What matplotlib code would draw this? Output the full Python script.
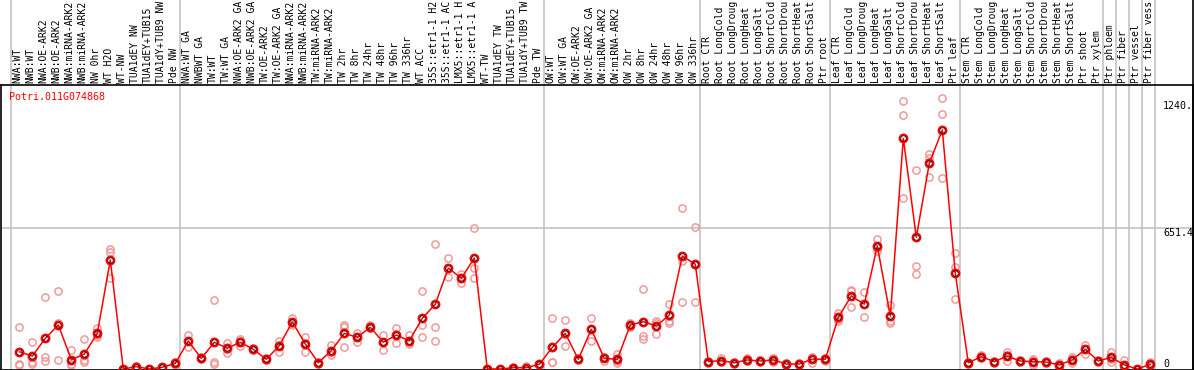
import numpy as np
import matplotlib.pyplot as plt
from matplotlib.lines import Line2D
from matplotlib.transforms import blended_transform_factory

gene = 'Potri.011G074868'

# names as shown in the strip (the source cuts them at 14 characters)
labels = [
    'NWA:WT', 'NWB:WT', 'NWA:OE-ARK2', 'NWB:OE-ARK2', 'NWA:miRNA-ARK2', 'NWB:miRNA-ARK2',
    'NW 0hr', 'WT H2O', 'WT-NW', 'TUA1dEY NW', 'TUA1dEY+TUB15', 'TUA1dY+TUB9 NW', 'Pde NW',
    'NWA:WT GA', 'NWBWT GA', 'TW:WT', 'TW:WT GA', 'NWA:OE-ARK2 GA', 'NWB:OE-ARK2 GA',
    'TW:OE-ARK2', 'TW:OE-ARK2 GA', 'NWA:miRNA-ARK2', 'NWB:miRNA-ARK2', 'TW:miRNA-ARK2',
    'TW:miRNA-ARK2', 'TW 2hr', 'TW 8hr', 'TW 24hr', 'TW 48hr', 'TW 96hr', 'TW 336hr', 'WT ACC',
    '35S::etr1-1 H2', '35S::etr1-1 AC', 'LMX5::etr1-1 H', 'LMX5::etr1-1 A', 'WT-TW',
    'TUA1dEY TW', 'TUA1dEY+TUB15', 'TUA1dY+TUB9 TW', 'Pde TW',
    'OW:WT', 'OW:WT GA', 'OW:OE-ARK2', 'OW:OE-ARK2 GA', 'OW:miRNA-ARK2', 'OW:miRNA-ARK2',
    'OW 2hr', 'OW 8hr', 'OW 24hr', 'OW 48hr', 'OW 96hr', 'OW 336hr',
    'Root CTR', 'Root LongCold', 'Root LongDroug', 'Root LongHeat', 'Root LongSalt',
    'Root ShortCold', 'Root ShortDrou', 'Root ShortHeat', 'Root ShortSalt', 'Ptr root',
    'Leaf CTR', 'Leaf LongCold', 'Leaf LongDroug', 'Leaf LongHeat', 'Leaf LongSalt',
    'Leaf ShortCold', 'Leaf ShortDrou', 'Leaf ShortHeat', 'Leaf ShortSalt', 'Ptr leaf',
    'Stem CTR', 'Stem LongCold', 'Stem LongDroug', 'Stem LongHeat', 'Stem LongSalt',
    'Stem ShortCold', 'Stem ShortDrou', 'Stem ShortHeat', 'Stem ShortSalt', 'Ptr shoot',
    'Ptr xylem', 'Ptr phloem', 'Ptr fiber', 'Ptr vessel', 'Ptr fiber vess',
]

# index of the first sample in each group (grey separators)
group_starts = [0, 13, 41, 53, 63, 73, 84, 85, 86, 87, 88]

means = [
    80, 60, 142, 204, 43, 69, 165, 505, 0, 11, 0, 8, 26,
    130, 49, 124, 96, 124, 91, 45, 108, 218, 116, 29, 85, 165, 147, 193, 124, 157, 131,
    235, 300, 468, 420, 514, 0, 0, 6, 6, 22,
    100, 165, 45, 184, 49, 45, 204, 219, 199, 250, 523, 485,
    34, 39, 29, 42, 37, 42, 23, 23, 46, 45,
    239, 338, 300, 570, 245, 1068, 610, 952, 1107, 443,
    29, 57, 34, 60, 37, 34, 32, 19, 42, 91, 37, 54, 19, 0, 22,
]

rep_a = [
    193, 124, 333, 360, 86, 137, 188, 556, 0, 12, 0, 8, 34,
    157, 55, 318, 119, 137, 95, 50, 131, 235, 147, 33, 111, 204, 165, 204, 157, 191, 157,
    361, 579, 514, 440, 651, 0, 0, 11, 14, 25,
    235, 225, 50, 234, 56, 69, 214, 369, 220, 300, 744, 656,
    38, 53, 33, 52, 41, 52, 29, 27, 57, 52,
    261, 361, 355, 602, 296, 1241, 921, 996, 1253, 536,
    33, 65, 38, 80, 41, 45, 36, 26, 54, 111, 41, 80, 42, 0, 34,
]
rep_b = [
    25, 25, 54, 40, 25, 34, 150, 543, 0, 10, 0, 5, 19,
    103, 45, 22, 76, 106, 87, 40, 80, 204, 80, 25, 65, 193, 127, 188, 88, 119, 114,
    204, 193, 425, 400, 468, 0, 0, 0, 0, 18,
    34, 106, 40, 131, 39, 29, 193, 153, 160, 220, 501, 480,
    30, 31, 25, 38, 33, 31, 19, 19, 29, 38,
    224, 289, 239, 548, 220, 1176, 477, 979, 1179, 471,
    25, 50, 30, 37, 33, 19, 28, 11, 26, 69, 33, 34, 8, 0, 14,
]
rep_c = [
    20, 31, 39, 212, 18, 40, 157, 420, 0, 8, 0, 10, 26,
    130, 49, 32, 93, 130, 91, 45, 113, 215, 121, 29, 79, 100, 150, 188, 127, 161, 123,
    147, 131, 468, 420, 420, 0, 2, 5, 4, 22,
    31, 164, 45, 186, 49, 37, 204, 137, 214, 214, 312, 312,
    34, 33, 29, 36, 37, 42, 23, 23, 52, 45,
    233, 364, 300, 560, 214, 790, 438, 888, 883, 323,
    29, 57, 34, 63, 37, 38, 32, 20, 46, 93, 37, 48, 8, 0, 18,
]

tick_vals = [1240.0, 651.4, 0]
tick_text = ['1240.', '651.4', '0']

x = np.arange(len(labels))
mono = 'DejaVu Sans Mono'
grey = '#c3c3c3'

fig = plt.figure(figsize=(11.94, 3.70), dpi=100)
W, H = 1194, 370
ax = fig.add_axes([1 / W, 0.5 / H, 1192 / W, 284.5 / H])
ax.set_xlim(-1.408, 90.285)
ax.set_ylim(-2.3, 1315)
ax.set_xticks([])
ax.set_yticks([])
for s in ax.spines.values():
    s.set_color('black')
    s.set_linewidth(1.2)

# grid: middle horizontal line and group separators reaching into the label strip
ax.axhline(651.4, color=grey, lw=1.2, zorder=0)
top_ext = 1 + 85 / 284.5
for g in group_starts:
    ax.axvline(g - 0.64, ymin=0, ymax=top_ext, color=grey, lw=1.2, clip_on=False, zorder=0)
fig.add_artist(Line2D([1193 / W, 1193 / W], [0, 1], color='black', lw=1.2))

# replicates, then the mean line on top
for reps in (rep_a, rep_b, rep_c):
    ax.plot(x, reps, 'o', ls='none', ms=5.2, mfc='none', mec='#ef9a9a', mew=1.1,
            clip_on=False, zorder=2)
ax.plot(x, means, '-', color='red', lw=1.1, clip_on=False, zorder=3)
ax.plot(x, means, 'o', ls='none', ms=5.6, mfc='none', mec='red', mew=1.5,
        clip_on=False, zorder=4)
ax.plot(x, means, 'o', ls='none', ms=3.9, mfc='none', mec='black', mew=0.5,
        clip_on=False, zorder=5)

# sample names, rotated, in the strip above the plot
lab_tr = blended_transform_factory(ax.transData, ax.transAxes)
for i, lab in enumerate(labels):
    ax.text(i - 0.12, 1 + 2 / 284.5, lab, transform=lab_tr, rotation=90,
            ha='center', va='bottom', fontsize=7, family=mono, clip_on=False)

# value labels on the right
val_tr = blended_transform_factory(ax.transAxes, ax.transData)
for v, t in zip(tick_vals, tick_text):
    ax.text((1163 - 1) / 1192, v, t, transform=val_tr, fontsize=7.2, family=mono,
            ha='left', va='bottom' if v == 0 else 'top')

fig.text(9 / W, 1 - 97.5 / H, gene, color='red', fontsize=7.2, family=mono,
         ha='left', va='center')

fig.savefig('out.png', dpi=100)
